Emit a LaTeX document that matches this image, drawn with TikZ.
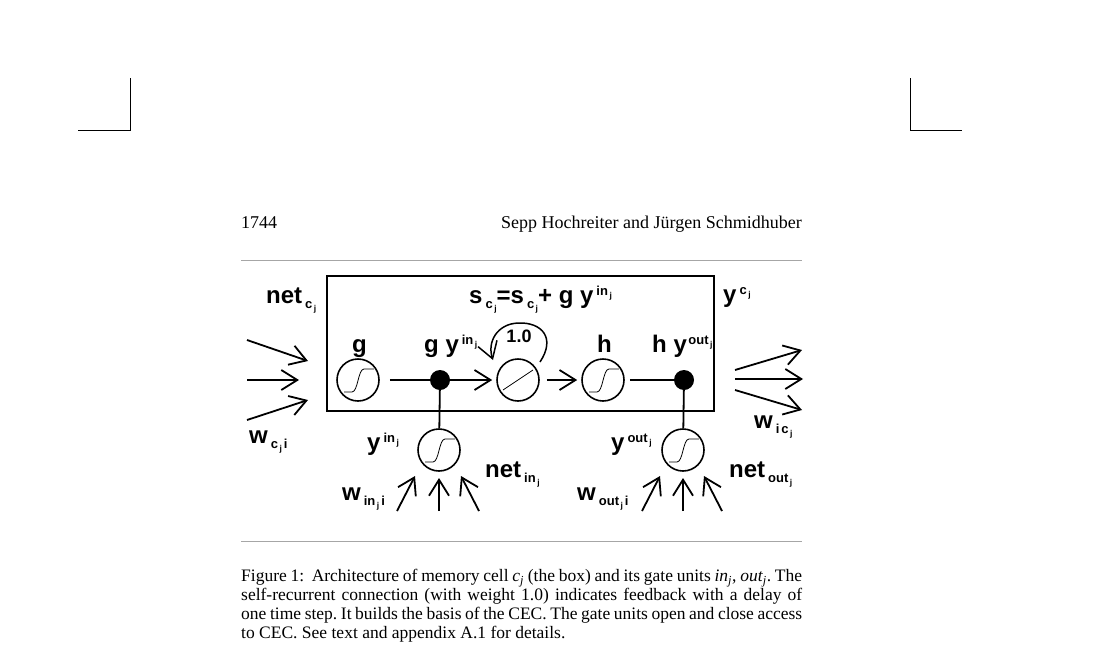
\documentclass[tikz,border=0pt]{standalone}
\usepackage{fontspec}
\setmainfont{Liberation Serif}
\setsansfont{Liberation Sans}
\usetikzlibrary{arrows.meta,positioning}
\tikzset{>={Straight Barb[length=16pt,width=20pt]}}

\newcommand{\lbl}{\fontsize{24}{24}\selectfont\sffamily\bfseries}
\newcommand{\headfont}{\fontsize{18}{19}\selectfont}
\newcommand{\capfont}{\fontsize{17.5}{19}\selectfont\frenchspacing}
\newcommand{\lsub}[1]{\kern3pt\raisebox{-5pt}{\fontsize{13}{13}\selectfont #1}}
\newcommand{\lsup}[1]{\kern3pt\raisebox{8pt}{\fontsize{13}{13}\selectfont #1}}
\newcommand{\lj}{\kern1.5pt\raisebox{-3pt}{\fontsize{8.5}{8.5}\selectfont j}}
\newcommand{\sigmoid}[1]{\draw[line width=0.8pt, shift={(#1.center)}] (-14,12) -- (-6,12) .. controls (0,12) and (0,-11) .. (6,-11) -- (16,-11);}

\begin{document}
\begin{tikzpicture}[x=1pt, y=-1pt,
                    unit/.style={circle, draw, line width=1.6pt, minimum size=42pt, inner sep=0pt},
                    dot/.style={circle, fill, minimum size=20pt, inner sep=0pt},
                    conn/.style={line width=1.8pt},
                    lab/.style={anchor=base west, inner sep=0pt, font=\lbl},
                    rule/.style={line width=1pt, black!35},
                    crop/.style={line width=1pt},
                   ]

\useasboundingbox (0,0) rectangle (1105,664);

% crop marks
\draw[crop] (130,78) -- (130,130) -- (78,130);
\draw[crop] (910,78) -- (910,130) -- (962,130);

% running head
\node[anchor=base west, inner sep=0pt, font=\headfont] (page) at (241,228) {1744};
\node[anchor=base east, inner sep=0pt, font=\headfont] (authors) at (802,228) {Sepp Hochreiter and Jürgen Schmidhuber};

\draw[rule] (241,260) -- (802,260);
\draw[rule] (241,541) -- (802,541);

% memory cell
\draw[line width=2pt] (327,276) rectangle (714,411);

\node[unit] (g) at (358,380) {};
\node[dot] (din) at (440,380) {};
\node[unit] (cec) at (518,380) {};
\node[unit] (h) at (603,380) {};
\node[dot] (dout) at (684,380) {};
\node[unit] (ingate) at (439,450) {};
\node[unit] (outgate) at (683,450) {};

\sigmoid{g}
\sigmoid{h}
\sigmoid{ingate}
\sigmoid{outgate}
\draw[line width=0.8pt, shift={(cec.center)}] (-15,10) -- (15,-10);

\draw[conn] ([xshift=10pt]g.east) -- (din);
\draw[conn,->] (din) -- ([xshift=-4pt]cec.west);
\draw[conn,->] ([xshift=7pt]cec.east) -- ([xshift=-4pt]h.west);
\draw[conn] ([xshift=5pt]h.east) -- (dout);
\draw[conn] (din) -- (ingate);
\draw[conn] (dout) -- (outgate);

% self-recurrent connection
\coordinate (loopstart) at (540,362);
\coordinate (loopend) at (493,360);
\draw[line width=1.5pt,->] (loopstart) .. controls (556,338) and (542,322) .. (518,323) .. controls (497,324) and (487,342) .. (loopend);
\node[anchor=base, inner sep=0pt, font=\fontsize{18}{18}\selectfont\sffamily\bfseries] (weight) at (519,342) {1.0};

% inputs and outputs
\draw[conn,->] (247,340) -- (308,361);
\draw[conn,->] (247,380) -- (299,380);
\draw[conn,->] (247,420) -- (308,400);
\draw[conn,->] (735,370) -- (802,350);
\draw[conn,->] (735,379) -- (803,379);
\draw[conn,->] (735,390) -- (802,410);
\draw[conn,->] (397,511) -- (415,476);
\draw[conn,->] (439,511) -- (439,478);
\draw[conn,->] (479,511) -- (461,476);
\draw[conn,->] (642,511) -- (660,476);
\draw[conn,->] (683,511) -- (683,478);
\draw[conn,->] (722,511) -- (704,476);

% labels
\node[lab] (netc) at (266,303) {net\lsub{c\lj}};
\node[lab] (state) at (469,303) {s\lsub{c\lj}=s\lsub{c\lj}+ g y\lsup{in\lj}};
\node[lab] (yc) at (723,302) {y\lsup{c\lj}};
\node[lab] (glab) at (352,352) {g};
\node[lab] (gy) at (424,352) {g y\lsup{in\lj}};
\node[lab] (hlab) at (597,352) {h};
\node[lab] (hy) at (652,352) {h y\kern-1.5pt\lsup{out\lj}};
\node[lab] (wc) at (249,443) {w\lsub{c\lj\kern2pt i}};
\node[lab] (yin) at (367,450) {y\lsup{in\lj}};
\node[lab] (netin) at (485,477) {net\lsub{in\lj}};
\node[lab] (win) at (342,500) {w\lsub{in\lj\kern2pt i}};
\node[lab] (yout) at (611,450) {y\lsup{out\lj}};
\node[lab] (netout) at (729,477) {net\lsub{out\lj}};
\node[lab] (wout) at (577,500) {w\lsub{out\lj\kern2pt i}};
\node[lab] (wic) at (754,428) {w\lsub{i\kern2pt c\lj}};

% caption
\node[anchor=north west, inner sep=0pt, text width=561pt, align=justify, font=\capfont] (caption) at (241,569)
  {Figure 1:\ \ Architecture of memory cell \textit{c}\textsubscript{\textit{j}} (the box) and its gate units \textit{in}\textsubscript{\textit{j}}, \textit{out}\textsubscript{\textit{j}}. The\linebreak
   self-recurrent connection (with weight 1.0) indicates feedback with a delay of\linebreak
   one time step. It builds the basis of the CEC. The gate units open and close access\linebreak
   to CEC. See text and appendix A.1 for details.};

\end{tikzpicture}
\end{document}
